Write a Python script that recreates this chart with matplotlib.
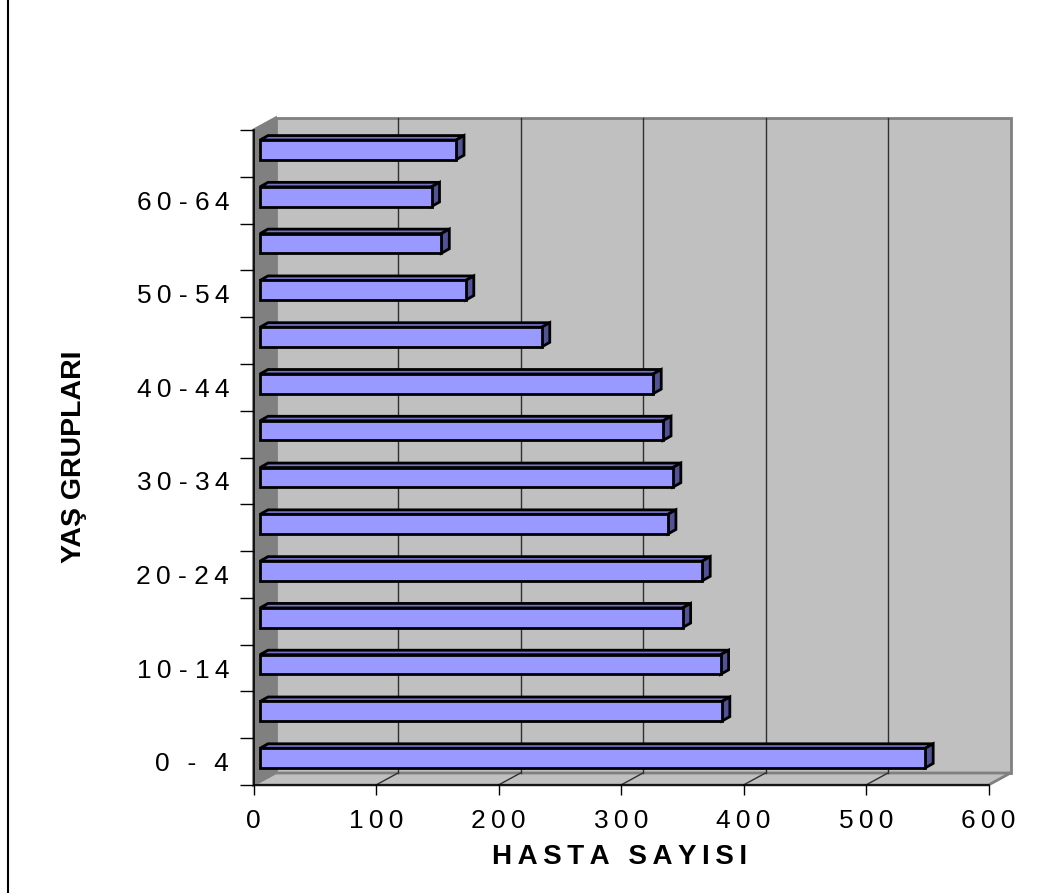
import numpy as np
import matplotlib.pyplot as plt
from matplotlib.patches import Polygon, Rectangle
from matplotlib.lines import Line2D

plt.rcParams['font.family'] = ['Liberation Sans', 'DejaVu Sans']

# yaş grupları ve hasta sayıları
age_groups = ["0 - 4", "5 - 9", "10 - 14", "15 - 19", "20 - 24", "25 - 29", "30 - 34",
              "35 - 39", "40 - 44", "45 - 49", "50 - 54", "55 - 59", "60 - 64", "65 +"]
patients = [543, 377, 376, 345, 361, 333, 337, 329, 321, 230, 168, 148, 140, 160]
x_ticks = [0, 100, 200, 300, 400, 500, 600]

W, H = 1061, 893
AX_L, AX_B, AX_W, AX_H = 253.5, 108, 735, 655   # on plan (piksel)
DEPTH_X, DEPTH_Y = 22, 12                        # arka duvar kaydırması (piksel)


def spaced(s):
    # harf aralığı: karakterler arasına ince boşluk; kısa etiketlerde her yere
    if len(s) <= 5:
        return "\u2009".join(s)
    out = s[0]
    for a, b in zip(s, s[1:]):
        if a != " " and b != " ":
            out += "\u2009"
        out += b
    return out


fig = plt.figure(figsize=(W / 100, H / 100), dpi=100)
ax = fig.add_axes([AX_L / W, AX_B / H, AX_W / W, AX_H / H])
n = len(age_groups)
ax.set_xlim(0, 600)
ax.set_ylim(-0.5, n - 0.5)
ax.patch.set_visible(False)
for side in ['top', 'right']:
    ax.spines[side].set_visible(False)
for side in ['left', 'bottom']:
    ax.spines[side].set_color('black')
    ax.spines[side].set_linewidth(1.2)
    ax.spines[side].set_zorder(5)

# duvarlar ve taban (eksen koordinatlarında)
dx, dy = DEPTH_X / AX_W, DEPTH_Y / AX_H
wall_kw = dict(transform=ax.transAxes, clip_on=False, linewidth=2, edgecolor='#808080')
ax.add_patch(Rectangle((dx, dy), 1, 1, facecolor='#C0C0C0', zorder=0, **wall_kw))
ax.add_patch(Polygon([(0, 0), (0, 1), (dx, 1 + dy), (dx, dy)], facecolor='#808080', zorder=0.5, **wall_kw))
ax.add_patch(Polygon([(0, 0), (1, 0), (1 + dx, dy), (dx, dy)], facecolor='#C0C0C0', zorder=0.5, **wall_kw))

# ızgara çizgileri arka duvarda, tabanda da çapraz bağlantılar
for t in x_ticks[1:-1]:
    xa = t / 600
    ax.plot([xa + dx, xa + dx], [dy, 1 + dy], transform=ax.transAxes, color='#303030',
            lw=1, zorder=1, clip_on=False)
    ax.plot([xa, xa + dx], [0, dy], transform=ax.transAxes, color='#303030',
            lw=1, zorder=1, clip_on=False)

# 3B çubuklar: ön yüz barh ile, üst ve yan yüz çokgenle
px_x = 600 / AX_W
px_y = n / AX_H
fx, fy = 6.5 * px_x, 3.5 * px_y
bx, by = 8 * px_x, 4.5 * px_y
h = 0.42
ypos = np.arange(n) + fy
ax.barh(ypos, patients, height=h, left=fx, color='#9999FF', edgecolor='black',
        linewidth=2.0, zorder=4)
for yi, v in zip(ypos, patients):
    top, bot, x1 = yi + h / 2, yi - h / 2, fx + v
    ax.add_patch(Polygon([(fx, top), (x1, top), (x1 + bx, top + by), (fx + bx, top + by)],
                         facecolor='#7373C8', edgecolor='black', linewidth=2.0, zorder=3.9))
    ax.add_patch(Polygon([(x1, bot), (x1, top), (x1 + bx, top + by), (x1 + bx, bot + by)],
                         facecolor='#525296', edgecolor='black', linewidth=2.0, zorder=3.9))

# eksen işaretleri
ax.set_yticks(np.arange(-0.5, n, 1.0))
ax.set_yticklabels([])
ax.set_yticks(np.arange(0, n, 2), [spaced(s) for s in age_groups[::2]], minor=True)
ax.tick_params(axis='y', which='major', length=10, width=1, color='black')
ax.tick_params(axis='y', which='minor', length=0, pad=17.6, labelsize=19)
ax.set_xticks(x_ticks, [spaced(str(t)) for t in x_ticks])
ax.tick_params(axis='x', length=7.5, width=1, color='black', pad=10, labelsize=19)

fig.text(620 / W, 1 - 857 / H, "\u2009".join("HASTA SAYISI"), ha='center', va='center',
         fontsize=20, fontweight='bold')
fig.text(74 / W, 1 - 457 / H, "YAŞ GRUPLARI", ha='center', va='center', rotation=90,
         fontsize=20.5, fontweight='bold')

# sol kenar çizgisi
fig.add_artist(Line2D([8 / W, 8 / W], [0, 1], transform=fig.transFigure, color='black', lw=1.5))

fig.savefig('out.png', dpi=100)
